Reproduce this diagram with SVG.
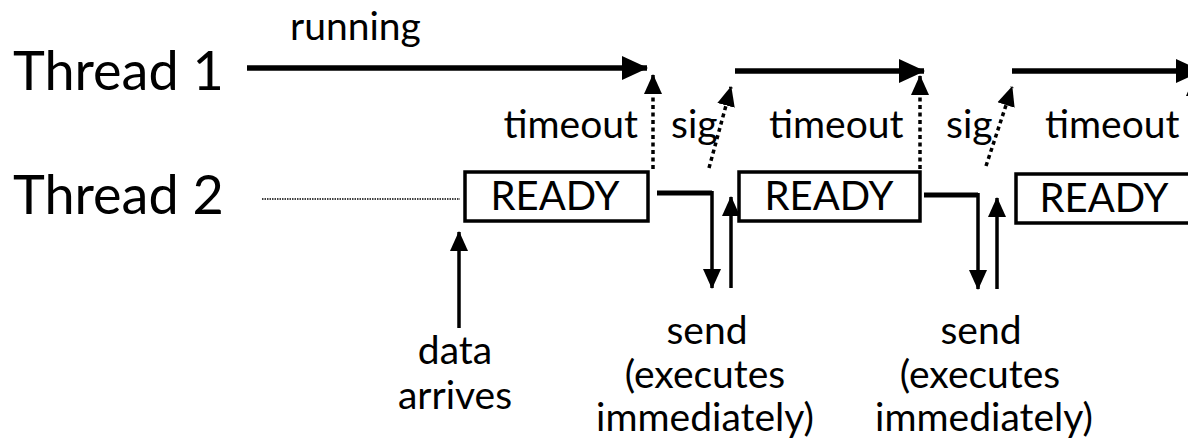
<svg xmlns="http://www.w3.org/2000/svg" width="1188" height="443" viewBox="0 0 1188 443">
<style>
text{font-family:Lato,"Liberation Sans",sans-serif;fill:#000}
.big{font-size:54px}
.lbl{font-size:39px}
.rd{font-size:40px;text-anchor:middle}
.mid{text-anchor:middle}
.box{fill:#fff;stroke:#000;stroke-width:3.5}
.run{stroke:#000;stroke-width:5.5;fill:none}
.thk{stroke:#000;stroke-width:5;fill:none}
.sol{stroke:#000;stroke-width:3.5;fill:none}
.dot{stroke:#000;stroke-width:3.5;fill:none;stroke-dasharray:4 3.5}
</style>
<defs>
<marker id="bigHead" markerUnits="userSpaceOnUse" markerWidth="26" markerHeight="26" refX="25" refY="13" orient="auto" viewBox="0 0 26 26"><path d="M0,1 L26,13 L0,25 Z" fill="#000"/></marker>
<marker id="smHead" markerUnits="userSpaceOnUse" markerWidth="20" markerHeight="20" refX="19" refY="10" orient="auto" viewBox="0 0 20 20"><path d="M0,1 L20,10 L0,19 Z" fill="#000"/></marker>
</defs>
<g id="labels">
<text class="big" x="13" y="90">Thread 1</text>
<text class="big" x="13" y="214">Thread 2</text>
<text class="lbl" x="290" y="40">running</text>
<text class="lbl" x="638" y="138" text-anchor="end">timeout</text>
<text class="lbl" x="671" y="138">sig</text>
<text class="lbl" x="769" y="138">timeout</text>
<text class="lbl" x="946" y="138">sig</text>
<text class="lbl" x="1045" y="138">timeout</text>
</g>
<g id="node-ready1"><rect class="box" x="465" y="172" width="183" height="49"/><text class="rd" x="555" y="210">READY</text></g>
<g id="node-ready2"><rect class="box" x="739" y="172" width="181" height="49"/><text class="rd" x="829" y="210">READY</text></g>
<g id="node-ready3"><rect class="box" x="1016" y="174" width="200" height="49"/><text class="rd" x="1104" y="212">READY</text></g>
<g id="node-data"><text class="lbl mid" x="455" y="364">data</text><text class="lbl mid" x="455" y="409">arrives</text></g>
<g id="node-send1"><text class="lbl mid" x="707" y="344">send</text><text class="lbl mid" x="705" y="388">(executes</text><text class="lbl mid" x="705" y="431">immediately)</text></g>
<g id="node-send2"><text class="lbl mid" x="981" y="344">send</text><text class="lbl mid" x="980" y="388">(executes</text><text class="lbl mid" x="984" y="431">immediately)</text></g>
<g id="connectors">
<line class="run" x1="247" y1="68" x2="647" y2="68" marker-end="url(#bigHead)"/>
<line class="run" x1="735" y1="71" x2="924" y2="71" marker-end="url(#bigHead)"/>
<line class="run" x1="1012" y1="71" x2="1201" y2="71" marker-end="url(#bigHead)"/>
<line x1="262" y1="199" x2="460" y2="199" stroke="#000" stroke-width="1.5" stroke-dasharray="1.5 1"/>
<line class="dot" x1="653" y1="169" x2="653" y2="75" marker-end="url(#smHead)"/>
<line class="dot" x1="920" y1="169" x2="920" y2="76" marker-end="url(#smHead)"/>
<line class="dot" x1="1195" y1="169" x2="1195" y2="77" marker-end="url(#smHead)"/>
<line class="dot" x1="709" y1="168" x2="731" y2="87" marker-end="url(#smHead)"/>
<line class="dot" x1="986" y1="166" x2="1012" y2="87" marker-end="url(#smHead)"/>
<polyline class="thk" points="657,193 712,193"/>
<line class="sol" x1="712" y1="191" x2="712" y2="288" marker-end="url(#smHead)"/>
<line class="sol" x1="731" y1="288" x2="731" y2="197" marker-end="url(#smHead)"/>
<polyline class="thk" points="924,195 978,195"/>
<line class="sol" x1="978" y1="193" x2="978" y2="289" marker-end="url(#smHead)"/>
<line class="sol" x1="997" y1="289" x2="997" y2="198" marker-end="url(#smHead)"/>
<line class="sol" x1="459" y1="328" x2="459" y2="232" marker-end="url(#smHead)"/>
</g>
</svg>
